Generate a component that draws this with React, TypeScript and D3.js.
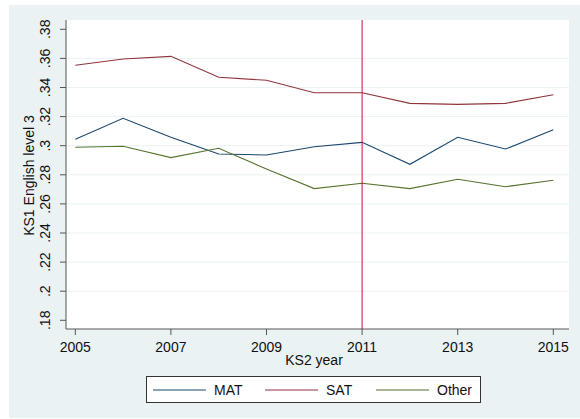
import React, { useEffect, useRef } from 'react';
import * as d3 from 'd3';

const years = [2005, 2006, 2007, 2008, 2009, 2010, 2011, 2012, 2013, 2014, 2015];
const matValues = [0.3044, 0.3188, 0.3058, 0.2943, 0.2936, 0.2993, 0.3023, 0.2872, 0.3058, 0.2977, 0.311];
const satValues = [0.3553, 0.3596, 0.3614, 0.347, 0.345, 0.3364, 0.3364, 0.3291, 0.3284, 0.3291, 0.335];
const otherValues = [0.2989, 0.2996, 0.2918, 0.2982, 0.284, 0.2705, 0.2742, 0.2705, 0.2769, 0.2718, 0.2762];
const yTicks = [0.18, 0.2, 0.22, 0.24, 0.26, 0.28, 0.3, 0.32, 0.34, 0.36, 0.38];
const xTicks = [2005, 2007, 2009, 2011, 2013, 2015];
const markerYear = 2011;

const series = [
  { name: 'MAT', values: matValues, color: '#1a476f' },
  { name: 'SAT', values: satValues, color: '#90353b' },
  { name: 'Other', values: otherValues, color: '#55752f' },
];

const fmt = (v: number) => {
  const s = d3.format('.2f')(v).replace(/^0/, '');
  return s.replace(/0$/, '');
};

const App: React.FC = () => {
  const svgRef = useRef<SVGSVGElement>(null);

  useEffect(() => {
    if (!svgRef.current) return;
    const svg = d3.select(svgRef.current);
    svg.selectAll('*').remove();

    const plot = { left: 66, right: 569, top: 20, bottom: 329 };
    const x = d3.scaleLinear().domain([2005, 2015]).range([75.3, 553.3]);
    const y = d3.scaleLinear().domain([0.18, 0.38]).range([320.3, 29.3]);
    const font = 'Arial, "Liberation Sans", sans-serif';

    svg.append('rect').attr('x', 9).attr('y', 5).attr('width', 571).attr('height', 413).attr('fill', '#eaf2f3');
    svg.append('rect')
      .attr('x', plot.left).attr('y', plot.top)
      .attr('width', plot.right - plot.left).attr('height', plot.bottom - plot.top)
      .attr('fill', '#ffffff');

    // gridlines
    svg.append('g')
      .selectAll('line')
      .data(yTicks.filter(t => t > 0.18 && t < 0.38))
      .join('line')
      .attr('x1', plot.left).attr('x2', plot.right)
      .attr('y1', d => y(d)).attr('y2', d => y(d))
      .attr('stroke', '#eaf2f3').attr('stroke-width', 1);

    // y axis
    const yAxis = svg.append('g');
    yAxis.append('line')
      .attr('x1', plot.left).attr('x2', plot.left)
      .attr('y1', plot.top).attr('y2', plot.bottom)
      .attr('stroke', '#555').attr('stroke-width', 1);
    yAxis.selectAll('line.tick')
      .data(yTicks)
      .join('line')
      .attr('class', 'tick')
      .attr('x1', plot.left - 6).attr('x2', plot.left)
      .attr('y1', d => y(d)).attr('y2', d => y(d))
      .attr('stroke', '#555');
    yAxis.selectAll('text')
      .data(yTicks)
      .join('text')
      .attr('transform', d => `translate(50,${y(d)}) rotate(-90)`)
      .attr('text-anchor', 'middle')
      .attr('font-family', font).attr('font-size', 14)
      .attr('fill', '#111')
      .text(d => fmt(d));
    svg.append('text')
      .attr('transform', `translate(34,175.5) rotate(-90)`)
      .attr('text-anchor', 'middle')
      .attr('font-family', font).attr('font-size', 14)
      .attr('fill', '#111')
      .text('KS1 English level 3');

    // x axis
    const xAxis = svg.append('g');
    xAxis.append('line')
      .attr('x1', plot.left).attr('x2', plot.right)
      .attr('y1', plot.bottom).attr('y2', plot.bottom)
      .attr('stroke', '#555');
    xAxis.selectAll('line.tick')
      .data(xTicks)
      .join('line')
      .attr('class', 'tick')
      .attr('x1', d => x(d)).attr('x2', d => x(d))
      .attr('y1', plot.bottom).attr('y2', plot.bottom + 6)
      .attr('stroke', '#555');
    xAxis.selectAll('text')
      .data(xTicks)
      .join('text')
      .attr('x', d => x(d)).attr('y', 351.5)
      .attr('text-anchor', 'middle')
      .attr('font-family', font).attr('font-size', 14)
      .attr('fill', '#111')
      .text(d => String(d));
    svg.append('text')
      .attr('x', 314).attr('y', 365)
      .attr('text-anchor', 'middle')
      .attr('font-family', font).attr('font-size', 14)
      .attr('fill', '#111')
      .text('KS2 year');

    // lines
    const line = d3.line<number>()
      .x((_, i) => x(years[i]))
      .y(d => y(d));
    svg.append('g')
      .selectAll('path')
      .data(series)
      .join('path')
      .attr('d', d => line(d.values))
      .attr('fill', 'none')
      .attr('stroke', d => d.color)
      .attr('stroke-width', 1.1);

    // vertical reference line
    svg.append('line')
      .attr('x1', x(markerYear)).attr('x2', x(markerYear))
      .attr('y1', plot.top).attr('y2', plot.bottom)
      .attr('stroke', '#d10a3c').attr('stroke-width', 1);

    // legend
    const legend = svg.append('g');
    legend.append('rect')
      .attr('x', 146.5).attr('y', 376.5).attr('width', 334).attr('height', 26)
      .attr('fill', '#ffffff').attr('stroke', '#333').attr('stroke-width', 1);
    const lx = [153, 265, 376];
    const item = legend.selectAll('g.item')
      .data(series)
      .join('g')
      .attr('class', 'item')
      .attr('transform', (_, i) => `translate(${lx[i]},390)`);
    item.append('line')
      .attr('x1', 0).attr('x2', 53)
      .attr('stroke', d => d.color).attr('stroke-width', 1.1);
    item.append('text')
      .attr('x', 61).attr('y', 5)
      .attr('font-family', font).attr('font-size', 14)
      .attr('fill', '#111')
      .text(d => d.name);
  }, []);

  return (
    <div style={{ position: 'fixed', left: 0, top: 0 }}>
      <svg ref={svgRef} width={580} height={419} style={{ display: 'block' }} />
    </div>
  );
};

export default App;
